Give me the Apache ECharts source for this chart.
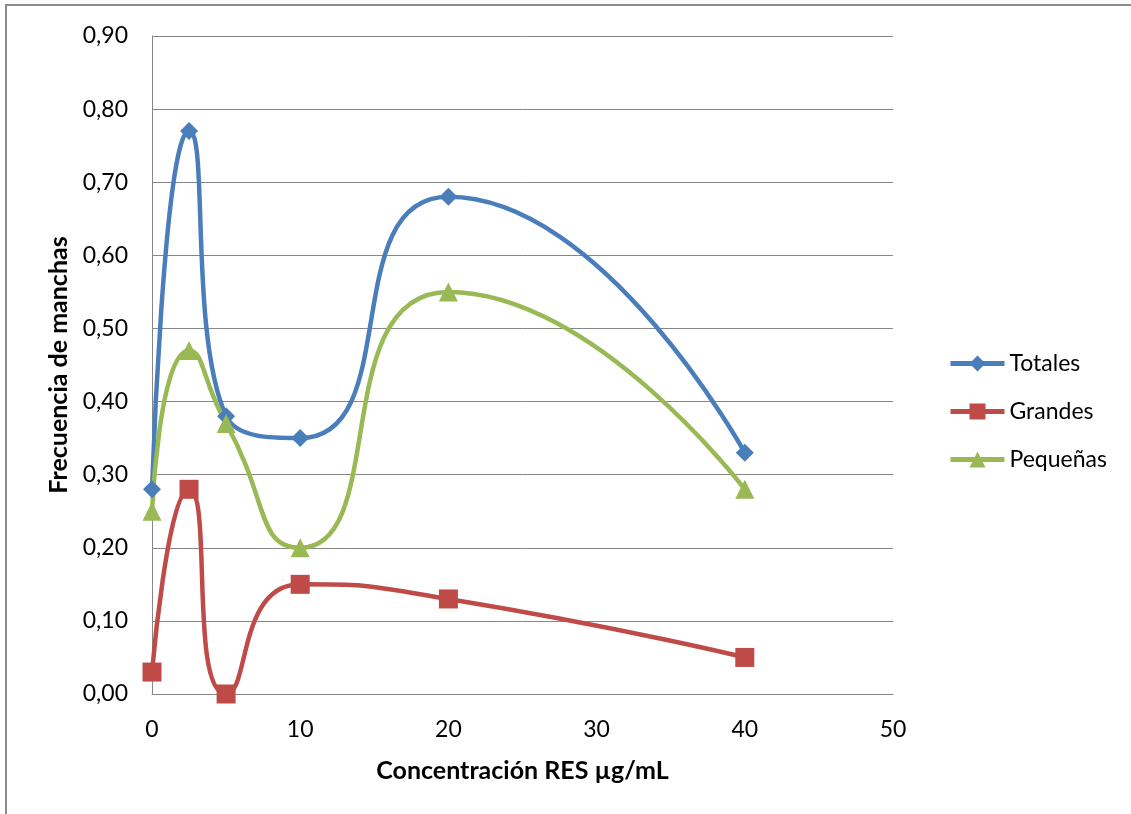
<!DOCTYPE html>
<html>
<head>
<meta charset="utf-8">
<script src="https://cdn.jsdelivr.net/npm/echarts@6/dist/echarts.min.js"></script>
<style>
html,body{margin:0;padding:0;background:#fff;}
#c{width:1131px;height:814px;}
</style>
</head>
<body>
<div id="c"></div>
<script>
const xValues = [0, 2.5, 5, 10, 20, 40];
const totales = [0.28, 0.77, 0.38, 0.35, 0.68, 0.33];
const grandes = [0.03, 0.28, 0.00, 0.15, 0.13, 0.05];
const pequenas = [0.25, 0.47, 0.37, 0.20, 0.55, 0.28];
const seriesNames = ['Totales', 'Grandes', 'Pequeñas'];
const xAxisTitle = 'Concentración RES µg/mL';
const yAxisTitle = 'Frecuencia de manchas';

const FONT = 'Lato, "Open Sans", sans-serif';
const pair = arr => xValues.map((x, i) => [x, arr[i]]);

const chart = echarts.init(document.getElementById('c'), null, {renderer: 'canvas'});
const mk = (name, data, color, symbol, size) => ({
  name, type: 'line', data: pair(data), smooth: 0.6,
  symbol, symbolSize: size,
  lineStyle: {color, width: 4.5},
  itemStyle: {color},
  z: 3
});
chart.setOption({
  animation: false,
  backgroundColor: '#fff',
  graphic: [{
    type: 'rect', shape: {x: 6, y: 5, width: 1200, height: 900},
    style: {fill: 'none', stroke: '#8c8c8c', lineWidth: 2}, silent: true
  }],
  grid: {left: 152, top: 36, width: 741, height: 658},
  xAxis: {
    type: 'value', min: 0, max: 50, interval: 10,
    name: xAxisTitle, nameLocation: 'middle', nameGap: 64,
    nameTextStyle: {fontFamily: FONT, fontSize: 25, fontWeight: 'bold', color: '#000'},
    axisLine: {show: true, lineStyle: {color: '#868686', width: 1}},
    axisTick: {show: false},
    axisLabel: {fontFamily: FONT, fontSize: 23, color: '#000', margin: 24},
    splitLine: {show: false}
  },
  yAxis: {
    type: 'value', min: 0, max: 0.9, interval: 0.1,
    name: yAxisTitle, nameLocation: 'middle', nameGap: 80,
    nameTextStyle: {fontFamily: FONT, fontSize: 25, fontWeight: 'bold', color: '#000'},
    axisLine: {show: true, lineStyle: {color: '#868686', width: 1}},
    axisTick: {show: false},
    axisLabel: {fontFamily: FONT, fontSize: 23, color: '#000', margin: 24,
      formatter: v => v.toFixed(2).replace('.', ',')},
    splitLine: {show: true, lineStyle: {color: '#868686', width: 1}}
  },
  legend: {
    orient: 'vertical', left: 948, top: 352, itemGap: 25, padding: 0,
    itemWidth: 54, itemHeight: 20,
    lineStyle: {width: 5},
    textStyle: {fontFamily: FONT, fontSize: 23, color: '#000'},
    data: seriesNames
  },
  series: [
    mk(seriesNames[0], totales, '#4A7EBB', 'diamond', 18),
    mk(seriesNames[1], grandes, '#BE4B48', 'rect', 19),
    mk(seriesNames[2], pequenas, '#98B954', 'triangle', 19)
  ]
});
</script>
</body>
</html>
